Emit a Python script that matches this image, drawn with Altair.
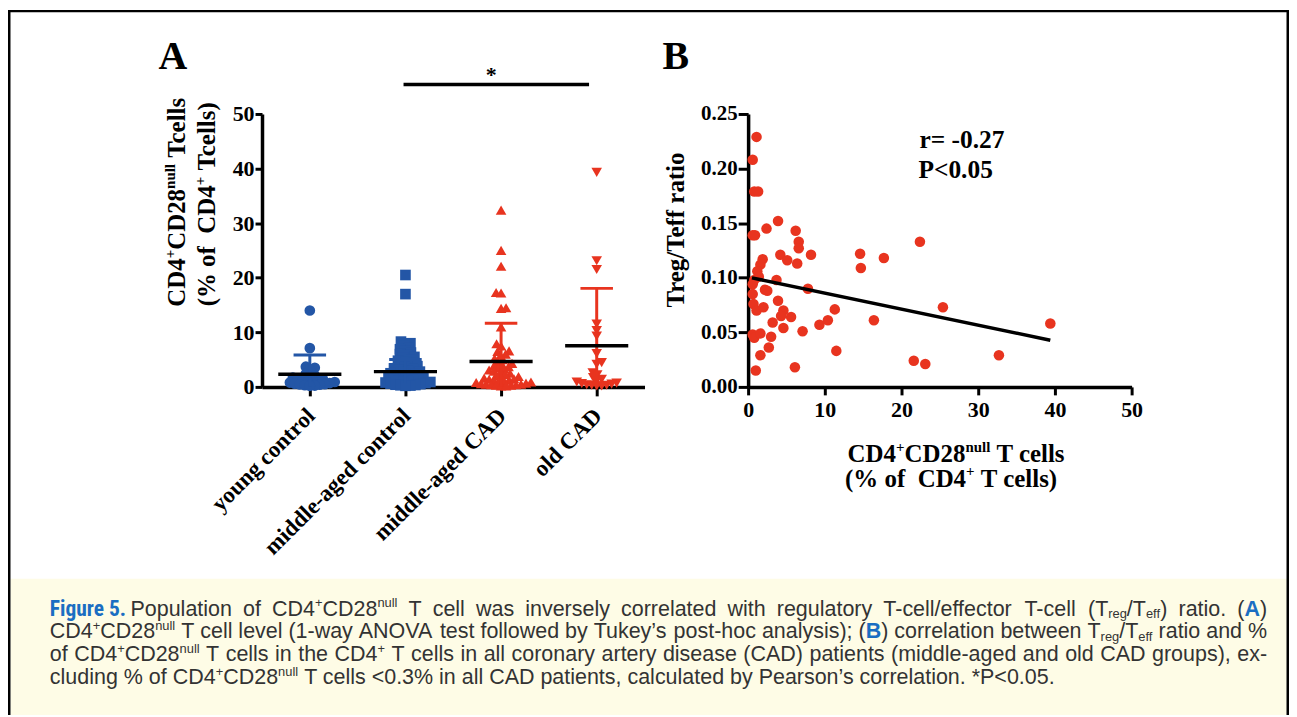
import os, glob, math, struct, json
import altair as alt
import pandas as pd

# ---------------- data ----------------
groups = ["young control", "middle-aged control", "middle-aged CAD", "old CAD"]
young_control = [14.0, 7.1, 3.7, 3.5, 3.2, 2.4, 2.1, 1.9, 1.7, 1.5, 1.4, 1.3, 1.2, 1.1, 1.0,
                 0.9, 0.8, 0.7, 0.6, 0.5, 0.45, 0.4, 0.3, 0.25, 0.2]
middle_aged_control = [20.5, 17.0, 8.3, 8.0, 7.6, 7.2, 6.9, 6.6, 6.3, 6.0, 5.8, 5.5, 5.3, 5.0,
                       4.8, 4.6, 4.4, 4.2, 4.0, 3.8, 3.6, 3.4, 3.3, 3.1, 3.0, 2.8, 2.7, 2.5, 2.4,
                       2.2, 2.1, 2.0, 1.9, 1.7, 1.6, 1.5, 1.4, 1.3, 1.2, 1.1, 1.0, 0.9, 0.8, 0.7,
                       0.6, 0.5, 0.4, 0.35, 0.3, 0.25, 0.2]
middle_aged_cad = [32.4, 25.0, 22.1, 17.3, 17.2, 14.5, 14.4, 11.0, 7.9, 7.5, 6.6, 6.5, 6.0, 5.8,
                   5.2, 5.0, 4.6, 4.3, 4.1, 3.9, 3.7, 3.5, 3.3, 3.1, 2.9, 2.7, 2.5, 2.3, 2.1, 1.9,
                   1.8, 1.6, 1.5, 1.4, 1.3, 1.2, 1.1, 1.0, 0.9, 0.8, 0.7, 0.6, 0.5, 0.5, 0.4, 0.4,
                   0.3, 0.3, 0.2, 0.2]
old_cad = [39.3, 23.1, 21.5, 11.5, 10.3, 9.3, 6.1, 4.45, 4.15, 2.6, 2.2, 1.7, 1.4, 1.1, 0.9,
           0.7, 0.6, 0.5, 0.4, 0.3, 0.3, 0.2, 0.2]
group_means = [2.3, 2.8, 4.65, 7.55]
group_sds = [3.55, 2.2, 7.0, 10.5]
a_ticks = [0, 10, 20, 30, 40, 50]
sig_bar_from, sig_bar_to, sig_bar_level = 0.98, 2.92, 55.4

b_x = [1.1, 0.6, 0.8, 1.3, 0.6, 0.9, 2.4, 3.9, 6.2, 6.6, 6.6, 4.2, 5.1, 6.4, 8.2, 1.9, 1.6, 1.2,
       1.4, 0.8, 3.7, 0.6, 2.2, 2.5, 7.8, 0.6, 0.7, 1.1, 2.0, 3.9, 4.6, 4.3, 5.6, 3.2, 4.6, 7.1,
       9.3, 10.4, 11.3, 0.6, 0.8, 1.6, 3.0, 2.7, 1.6, 1.0, 6.1, 11.5, 14.6, 14.7, 17.7, 16.4,
       22.4, 25.4, 21.6, 23.1, 32.7, 39.4]
b_y = [0.229, 0.208, 0.179, 0.179, 0.139, 0.139, 0.145, 0.152, 0.143, 0.133, 0.127, 0.121,
       0.116, 0.113, 0.121, 0.117, 0.112, 0.106, 0.101, 0.098, 0.098, 0.094, 0.089, 0.088,
       0.090, 0.085, 0.076, 0.070, 0.073, 0.079, 0.070, 0.065, 0.064, 0.059, 0.054, 0.051,
       0.057, 0.061, 0.071, 0.048, 0.045, 0.049, 0.046, 0.036, 0.029, 0.015, 0.018, 0.033,
       0.122, 0.109, 0.118, 0.061, 0.133, 0.073, 0.024, 0.021, 0.029, 0.058]
fit_x = [0.5, 39.4]
fit_y = [0.0999, 0.0428]
b_xticks = [0, 10, 20, 30, 40, 50]
b_yticks = [0.0, 0.05, 0.10, 0.15, 0.20, 0.25]

# text content
a_ytitle_1 = [("CD4", "pb"), ("+", "pbs"), ("CD28", "pb"), ("null", "pbs"), (" Tcells", "pb")]
a_ytitle_2 = [("(% of  CD4", "pb"), ("+", "pbs"), (" Tcells)", "pb")]
b_xtitle_1 = [("CD4", "pb"), ("+", "pbs"), ("CD28", "pb"), ("null", "pbs"), (" T cells", "pb")]
b_xtitle_2 = [("(% of  CD4", "pb"), ("+", "pbs"), (" T cells)", "pb")]
b_ytitle = [("Treg/Teff ratio", "pb")]
stat_r = [("r= -0.27", "pb")]
stat_p = [("P<0.05", "pb")]
caption_fig = [("Figure 5.", "fig")]
caption_1 = [("Population of CD4", "cr"), ("+", "crs"), ("CD28", "cr"), ("null", "crs"),
             (" T cell was inversely correlated with regulatory T-cell/effector T-cell (T", "cr"),
             ("reg", "crb"), ("/T", "cr"), ("eff", "crb"), (") ratio. (", "cr"), ("A", "cb"), (")", "cr")]
caption_2 = [("CD4", "cr"), ("+", "crs"), ("CD28", "cr"), ("null", "crs"),
             (" T cell level (1-way ANOVA test followed by Tukey\u2019s post-hoc analysis); (", "cr"),
             ("B", "cb"), (") correlation between T", "cr"), ("reg", "crb"), ("/T", "cr"),
             ("eff", "crb"), (" ratio and %", "cr")]
caption_3 = [("of CD4", "cr"), ("+", "crs"), ("CD28", "cr"), ("null", "crs"), (" T cells in the CD4", "cr"),
             ("+", "crs"),
             (" T cells in all coronary artery disease (CAD) patients (middle-aged and old CAD groups), ex-", "cr")]
caption_4 = [("cluding % of CD4", "cr"), ("+", "crs"), ("CD28", "cr"), ("null", "crs"),
             (" T cells <0.3% in all CAD patients, calculated by Pearson\u2019s correlation. *P<0.05.", "cr")]

# ---------------- styling / layout constants ----------------
BLUE = "#2356a6"
RED = "#e8341f"
CAP_BLUE = "#1a6ec2"
CAP_GRAY = "#333333"
CAP_BG = "#fefce6"
COLORS = [BLUE, BLUE, RED, RED]
SHAPES = ["circle", "square", "triangle-up", "triangle-down"]
SIZES = [115, 112, 135, 135]
SERIF = "Liberation Serif"

PAGE_A = (263.0, 112.5)   # page position of panel A plot origin
PAGE_B = (751.0, 112.5)
A_W, A_H = 384, 274
B_W, B_H = 385, 274
SPACING = PAGE_B[0] - PAGE_A[0] - A_W


# ---------------- font metrics (to place rich-text runs) ----------------
def find_font(fname):
    roots = ["/usr/share/fonts", "/usr/local/share/fonts",
             os.path.expanduser("~/.fonts"), os.path.expanduser("~/.local/share/fonts")]
    for r in roots:
        if os.path.isdir(r):
            hits = glob.glob(os.path.join(r, "**", fname), recursive=True)
            if hits:
                return hits[0]
    return None


class Metrics:
    def __init__(self, path, fallback=0.5):
        self.ok = False
        self.fb = fallback
        self.cache = {}
        if not path:
            return
        try:
            d = open(path, "rb").read()
            self.d = d
            n = struct.unpack(">H", d[4:6])[0]
            tabs = {}
            for i in range(n):
                tag, _cs, off, _ln = struct.unpack(">4sIII", d[12 + 16 * i: 28 + 16 * i])
                tabs[tag.decode("latin-1")] = off
            self.upem = struct.unpack(">H", d[tabs["head"] + 18: tabs["head"] + 20])[0]
            nh = struct.unpack(">H", d[tabs["hhea"] + 34: tabs["hhea"] + 36])[0]
            hm = tabs["hmtx"]
            self.adv = [struct.unpack(">H", d[hm + 4 * i: hm + 4 * i + 2])[0] for i in range(nh)]
            cm = tabs["cmap"]
            ns = struct.unpack(">H", d[cm + 2: cm + 4])[0]
            sub = None
            for i in range(ns):
                pid, eid, off = struct.unpack(">HHI", d[cm + 4 + 8 * i: cm + 12 + 8 * i])
                fmt = struct.unpack(">H", d[cm + off: cm + off + 2])[0]
                if fmt == 4 and (sub is None or (pid, eid) == (3, 1)):
                    sub = cm + off
            sc = struct.unpack(">H", d[sub + 6: sub + 8])[0] // 2
            p = sub + 14
            self.ends = struct.unpack(">%dH" % sc, d[p: p + 2 * sc]); p += 2 * sc + 2
            self.starts = struct.unpack(">%dH" % sc, d[p: p + 2 * sc]); p += 2 * sc
            self.deltas = struct.unpack(">%dh" % sc, d[p: p + 2 * sc]); p += 2 * sc
            self.rpos = p
            self.roffs = struct.unpack(">%dH" % sc, d[p: p + 2 * sc])
            self.sc = sc
            self.ok = True
        except Exception:
            self.ok = False

    def glyph(self, c):
        for i in range(self.sc):
            if self.ends[i] >= c:
                if self.starts[i] > c:
                    return 0
                if self.roffs[i] == 0:
                    return (c + self.deltas[i]) & 0xFFFF
                a = self.rpos + 2 * i + self.roffs[i] + 2 * (c - self.starts[i])
                g = struct.unpack(">H", self.d[a: a + 2])[0]
                return (g + self.deltas[i]) & 0xFFFF if g else 0
        return 0

    def width(self, text, size):
        if not self.ok:
            return len(text) * self.fb * size
        t = 0
        for ch in text:
            c = ord(ch)
            if c not in self.cache:
                g = self.glyph(c) if c < 0x10000 else 0
                self.cache[c] = self.adv[g] if g < len(self.adv) else self.adv[-1]
            t += self.cache[c]
        return t * size / self.upem


serif_b = Metrics(find_font("LiberationSerif-Bold.ttf"), 0.5)
sans_r = Metrics(find_font("LiberationSans-Regular.ttf"), 0.47)
sans_b = Metrics(find_font("LiberationSans-Bold.ttf"), 0.52)

fig_font, fig_m, fig_scale = "Liberation Sans", sans_b, 0.9
for fname, fam in [("LiberationSansNarrow-Bold.ttf", "Liberation Sans Narrow"),
                   ("RobotoCondensed-Bold.ttf", "Roboto Condensed"),
                   ("DejaVuSansCondensed-Bold.ttf", "DejaVu Sans Condensed")]:
    pth = find_font(fname)
    if pth:
        fig_font, fig_m, fig_scale = fam, Metrics(pth, 0.45), 1.0
        break

STY = {
    "pb": dict(font=SERIF, weight="bold", m=serif_b, color="black", scale=1.0, rise=0.0),
    "pbs": dict(font=SERIF, weight="bold", m=serif_b, color="black", scale=0.6, rise=0.42),
    "cr": dict(font="Liberation Sans", weight="normal", m=sans_r, color=CAP_GRAY, scale=1.0, rise=0.0),
    "crs": dict(font="Liberation Sans", weight="normal", m=sans_r, color=CAP_GRAY, scale=0.6, rise=0.38),
    "crb": dict(font="Liberation Sans", weight="normal", m=sans_r, color=CAP_GRAY, scale=0.6, rise=-0.1),
    "cb": dict(font="Liberation Sans", weight="bold", m=sans_b, color=CAP_BLUE, scale=1.0, rise=0.0),
    "fig": dict(font=fig_font, weight="bold", m=fig_m, color=CAP_BLUE, scale=fig_scale, rise=0.0),
}


def tokens(runs):
    out = []
    for text, st in runs:
        parts = text.split(" ")
        for j, p in enumerate(parts):
            if j > 0:
                out.append((None, st))
            if p:
                out.append((p, st))
    return out


def merge_tokens(toks):
    # keep single interior spaces inside one text piece (so kerning stays consistent)
    out = []
    for t in toks:
        if (t[0] is not None and len(out) >= 2 and out[-1][0] is None and out[-2][0] is not None
                and out[-1][1] == t[1] and out[-2][1] == t[1]):
            out.pop()
            prev = out.pop()
            out.append((prev[0] + " " + t[0], t[1]))
        else:
            out.append(t)
    return out


def tok_w(tok, size):
    t, st = tok
    S = STY[st]
    return S["m"].width(" " if t is None else t, size * S["scale"])


def natural(runs, size):
    return sum(tok_w(t, size) for t in tokens(runs))


def rich(runs, x, y, size, angle=0, align="left", justify=None):
    toks = tokens(runs)
    if justify is None:
        toks = merge_tokens(toks)
    ws = [tok_w(t, size) for t in toks]
    nat = sum(ws)
    nsp = sum(1 for t in toks if t[0] is None)
    extra = (justify - nat) / nsp if (justify is not None and nsp) else 0.0
    total = nat + extra * nsp
    s = -total / 2 if align == "center" else 0.0
    th = math.radians(angle)
    dx, dy = math.cos(th), math.sin(th)
    ux, uy = math.sin(th), -math.cos(th)
    rows = []
    for (t, st), w in zip(toks, ws):
        if t is None:
            s += w + extra
            continue
        S = STY[st]
        r = size * S["rise"]
        rows.append(dict(x=x + dx * s + ux * r, y=y + dy * s + uy * r, t=t,
                         s=size * S["scale"], c=S["color"], a=angle % 360,
                         font=S["font"], weight=S["weight"]))
        s += w
    return rows


# ---------------- text rows (page coordinates) ----------------
rows = []
rows += rich([("A", "pb")], 159, 67, 40)
rows += rich([("B", "pb")], 665, 67, 40)
rows += rich([("*", "pb")], 493, 80, 22, align="center")
rows += rich(a_ytitle_1, 186, 200, 25, angle=270, align="center")
rows += rich(a_ytitle_2, 216, 202, 25, angle=270, align="center")
rows += rich(b_ytitle, 687, 226.7, 25, angle=270, align="center")
rows += rich(b_xtitle_1, 960, 462, 25, align="center")
rows += rich(b_xtitle_2, 955, 486.5, 25, align="center")
rows += rich(stat_r, 923, 147, 25.5)
rows += rich(stat_p, 922, 177, 25.5)

cap_size = 1010.0 / natural(caption_4, 1.0)
cap_base = [616, 639, 662, 685]
rows += rich(caption_fig, 50, cap_base[0], cap_size)
rows += rich(caption_1, 131, cap_base[0], cap_size, justify=1272 - 131)
rows += rich(caption_2, 50, cap_base[1], cap_size, justify=1272 - 50)
rows += rich(caption_3, 50, cap_base[2], cap_size, justify=1272 - 50)
rows += rich(caption_4, 50, cap_base[3], cap_size)

txt = pd.DataFrame(rows)
txt["x"] = txt["x"] - PAGE_A[0]
txt["y"] = txt["y"] - PAGE_A[1]

# frame (thin filled bars) and caption box, page coordinates -> panel A coordinates
L, T, R, BOT, FW = 8.0, 8.0, 1294.0, 716.0, 2.5
frame = pd.DataFrame({"x": [L, L, R - FW], "x2": [R, L + FW, R],
                      "y": [T, T, T], "y2": [T + FW, BOT, BOT]})
capbox = pd.DataFrame({"x": [L + FW], "x2": [R - FW], "y": [579.0], "y2": [BOT]})
for df in (frame, capbox):
    df[["x", "x2"]] -= PAGE_A[0]
    df[["y", "y2"]] -= PAGE_A[1]


# ---------------- panel A: beeswarm of the four groups ----------------
PX_X = A_W / 4.0
PX_Y = A_H / 50.0


def swarm(values, dmin=4.8, step=0.5):
    order = sorted(range(len(values)), key=lambda i: values[i])
    placed, offs, flip = [], [0.0] * len(values), 1
    for i in order:
        yv = values[i] * PX_Y
        chosen, k = None, 0
        while chosen is None:
            cands = [0.0] if k == 0 else [flip * k * step, -flip * k * step]
            for c in cands:
                if all((c - px) ** 2 + (yv - py) ** 2 >= dmin * dmin for px, py in placed):
                    chosen = c
                    break
            k += 1
        if chosen > 0:
            flip = -1
        elif chosen < 0:
            flip = 1
        placed.append((chosen, yv))
        offs[i] = chosen
    return offs


recs = []
for gi, vals in enumerate([young_control, middle_aged_control, middle_aged_cad, old_cad]):
    for v, o in zip(vals, swarm(vals)):
        recs.append(dict(group=groups[gi], value=v, xpos=gi + o / PX_X))
dfA = pd.DataFrame(recs)

err = pd.DataFrame({"idx": list(range(4)), "mean": group_means, "sd": group_sds, "color": COLORS})
err["lo"] = (err["mean"] - err["sd"]).clip(lower=0)
err["hi"] = err["mean"] + err["sd"]
err["cl"], err["cr"] = err["idx"] - 0.17, err["idx"] + 0.17
err["ml"], err["mr"] = err["idx"] - 0.33, err["idx"] + 0.33
sig = pd.DataFrame({"x1": [sig_bar_from], "x2": [sig_bar_to], "y": [sig_bar_level]})

label_expr = json.dumps(groups) + "[datum.value]"
axA_x = alt.Axis(values=[0, 1, 2, 3], labelExpr=label_expr, title=None, grid=False,
                 domainColor="black", domainWidth=3.5, tickColor="black", tickWidth=3, tickSize=9,
                 labelAngle=315, labelAlign="right", labelBaseline="middle", labelPadding=16,
                 labelOffset=1, labelFont=SERIF, labelFontWeight="bold", labelFontSize=23,
                 labelColor="black", labelOverlap=False, labelFlush=False, labelLimit=600)
axA_y = alt.Axis(values=a_ticks, title=None, grid=False, domainColor="black", domainWidth=3.5,
                 tickColor="black", tickWidth=3, tickSize=7, labelPadding=1, labelFont=SERIF,
                 labelFontWeight="bold", labelFontSize=22, labelColor="black", labelOverlap=False)
xA = alt.Scale(domain=[-0.5, 3.5])
yA = alt.Scale(domain=[0, 50])

bg = alt.Chart(capbox).mark_rect(color=CAP_BG).encode(
    x=alt.X("x:Q", scale=None), x2="x2:Q", y=alt.Y("y:Q", scale=None), y2="y2:Q")
fr_l = alt.Chart(frame).mark_rect(color="black").encode(
    x=alt.X("x:Q", scale=None), x2="x2:Q", y=alt.Y("y:Q", scale=None), y2="y2:Q")

pts = alt.Chart(dfA).mark_point(filled=True, opacity=1).encode(
    x=alt.X("xpos:Q", scale=xA, axis=axA_x),
    y=alt.Y("value:Q", scale=yA, axis=axA_y),
    color=alt.Color("group:N", scale=alt.Scale(domain=groups, range=COLORS), legend=None),
    shape=alt.Shape("group:N", scale=alt.Scale(domain=groups, range=SHAPES), legend=None),
    size=alt.Size("group:O", scale=alt.Scale(domain=groups, range=SIZES), legend=None),
)
ev = alt.Chart(err).mark_rule(strokeWidth=3).encode(
    x=alt.X("idx:Q", scale=xA, axis=axA_x), y=alt.Y("lo:Q", scale=yA, axis=axA_y), y2="hi:Q",
    color=alt.Color("color:N", scale=None))
ec = alt.Chart(err).mark_rule(strokeWidth=3).encode(
    x=alt.X("cl:Q", scale=xA, axis=axA_x), x2="cr:Q", y=alt.Y("hi:Q", scale=yA, axis=axA_y),
    color=alt.Color("color:N", scale=None))
em = alt.Chart(err).mark_rule(strokeWidth=3.5, color="black").encode(
    x=alt.X("ml:Q", scale=xA, axis=axA_x), x2="mr:Q", y=alt.Y("mean:Q", scale=yA, axis=axA_y))
sb = alt.Chart(sig).mark_rule(strokeWidth=3.5, color="black").encode(
    x=alt.X("x1:Q", scale=xA, axis=axA_x), x2="x2:Q", y=alt.Y("y:Q", scale=yA, axis=axA_y))

text_layers = []
for (f, w), sub in txt.groupby(["font", "weight"]):
    text_layers.append(
        alt.Chart(sub.drop(columns=["font", "weight"])).mark_text(
            align="left", baseline="alphabetic", font=f, fontWeight=w).encode(
            x=alt.X("x:Q", scale=None), y=alt.Y("y:Q", scale=None), text="t:N",
            size=alt.Size("s:Q", scale=None), color=alt.Color("c:N", scale=None),
            angle=alt.Angle("a:Q", scale=None)))

panelA = alt.layer(bg, fr_l, pts, ev, ec, em, sb, *text_layers).properties(width=A_W, height=A_H)

# ---------------- panel B: scatter with regression line ----------------
dfB = pd.DataFrame({"x": b_x, "y": b_y})
dfFit = pd.DataFrame({"fx": fit_x, "fy": fit_y})
xB = alt.Scale(domain=[0, 50])
yB = alt.Scale(domain=[0, 0.25])
axB_x = alt.Axis(values=b_xticks, title=None, grid=False, domainColor="black", domainWidth=3.5,
                 tickColor="black", tickWidth=3, tickSize=8, labelPadding=5, labelFont=SERIF,
                 labelFontWeight="bold", labelFontSize=22, labelColor="black", labelFlush=False,
                 labelOverlap=False)
axB_y = alt.Axis(values=b_yticks, format=".2f", title=None, grid=False, domainColor="black",
                 domainWidth=3.5, tickColor="black", tickWidth=3, tickSize=10, labelPadding=1,
                 labelFont=SERIF, labelFontWeight="bold", labelFontSize=21, labelColor="black",
                 labelOverlap=False)
ptsB = alt.Chart(dfB).mark_circle(size=112, color=RED, opacity=1).encode(
    x=alt.X("x:Q", scale=xB, axis=axB_x), y=alt.Y("y:Q", scale=yB, axis=axB_y))
fitB = alt.Chart(dfFit).mark_line(color="black", strokeWidth=3.5).encode(
    x=alt.X("fx:Q", scale=xB, axis=axB_x), y=alt.Y("fy:Q", scale=yB, axis=axB_y))
panelB = alt.layer(ptsB, fitB).properties(width=B_W, height=B_H)

chart = alt.hconcat(panelA, panelB, spacing=SPACING, bounds="flush").properties(
    padding={"left": 0, "top": 0, "right": 0, "bottom": 0}).configure_view(strokeWidth=0)

chart.save("out.html", embed_options={"renderer": "svg", "actions": False})
